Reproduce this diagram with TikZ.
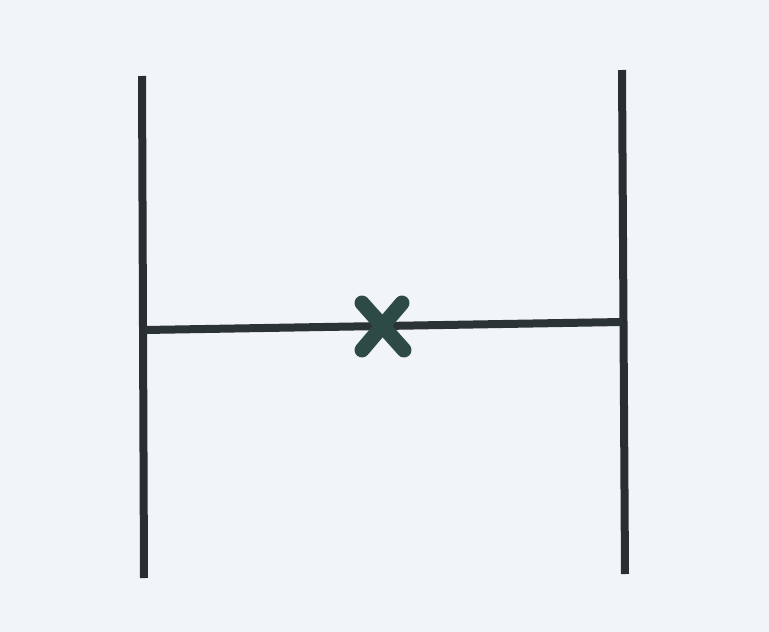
\documentclass[tikz,border=0pt]{standalone}
\usepackage{tikz}
\definecolor{bgc}{RGB}{241,244,248}
\definecolor{barc}{RGB}{42,45,50}
\definecolor{crossc}{RGB}{46,74,70}
\tikzset{
  bar/.style={draw=barc, line width=8pt},
  hbar/.style={draw=barc!80!crossc, line width=8pt},
  crossline/.style={draw=crossc, line width=15pt, line cap=round}
}
\begin{document}
\begin{tikzpicture}[x=1pt,y=-1pt]
\fill[bgc] (0,0) rectangle (769,632);
\useasboundingbox (0,0) rectangle (769,632);
\coordinate (lt) at (142,76);
\coordinate (lb) at (144,578);
\coordinate (rt) at (622,70);
\coordinate (rb) at (625,574);
\coordinate (hl) at (145,330);
\coordinate (hr) at (622,322);
\coordinate (xa) at (362,303);
\coordinate (xb) at (404,350);
\coordinate (xc) at (402,303);
\coordinate (xd) at (362,350);
\draw[bar] (lt) -- (lb);
\draw[bar] (rt) -- (rb);
\draw[hbar] (hl) -- (hr);
\draw[crossline] (xa) -- (xb);
\draw[crossline] (xc) -- (xd);
\end{tikzpicture}
\end{document}
